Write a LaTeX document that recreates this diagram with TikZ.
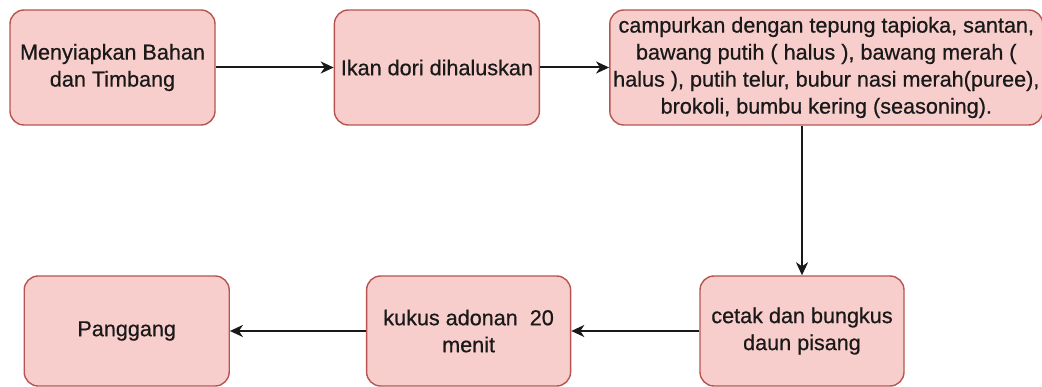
\documentclass[tikz,border=0pt]{standalone}
\usepackage{fontspec}
\setmainfont[FakeBold=0.6]{Liberation Sans}
\usetikzlibrary{arrows.meta, positioning}
\definecolor{boxfill}{HTML}{F8CECC}
\definecolor{boxline}{HTML}{B85450}
\tikzset{
>={Stealth[length=13pt,width=12pt,inset=4pt]}, % arrow heads
every node/.style={inner sep=0pt},
stepbox/.style={draw=boxline, fill=boxfill, line width=1.4pt, rounded corners=14pt,
  align=center, font=\fontsize{21.6}{27}\selectfont, text=black!90},
topbox/.style={stepbox, minimum width=205pt, minimum height=115pt},
lowbox/.style={stepbox, minimum width=204pt, minimum height=110pt},
flow/.style={->, line width=2pt, black!90},
}

\begin{document}
\begin{tikzpicture}[node distance=118pt]
  \useasboundingbox (0,0) rectangle (1042pt,-387pt);
  % top row
  \node[topbox] (prep) at (112.5pt,-67.5pt) {Menyiapkan Bahan\\dan Timbang};
  \node[topbox, right=of prep] (ikan) {Ikan dori dihaluskan};
  \node[topbox, minimum width=433pt, right=69pt of ikan] (campur)
    {campurkan dengan tepung tapioka, santan,\\bawang putih ( halus ), bawang merah (\\
     halus ), putih telur, bubur nasi merah(puree),\\brokoli, bumbu kering (seasoning).};
  % bottom row
  \node[lowbox] (cetak) at (802pt,-331pt) {cetak dan bungkus\\daun pisang};
  \node[lowbox, left=128pt of cetak] (kukus) {kukus adonan \ 20\\menit};
  \node[lowbox, minimum width=205pt, left=136pt of kukus] (panggang) {Panggang};

  \path[flow]
  (prep) edge (ikan)
  (ikan) edge (campur)
  (campur.south -| cetak.north) edge (cetak)
  (cetak) edge (kukus)
  (kukus) edge (panggang);
\end{tikzpicture}
\end{document}
